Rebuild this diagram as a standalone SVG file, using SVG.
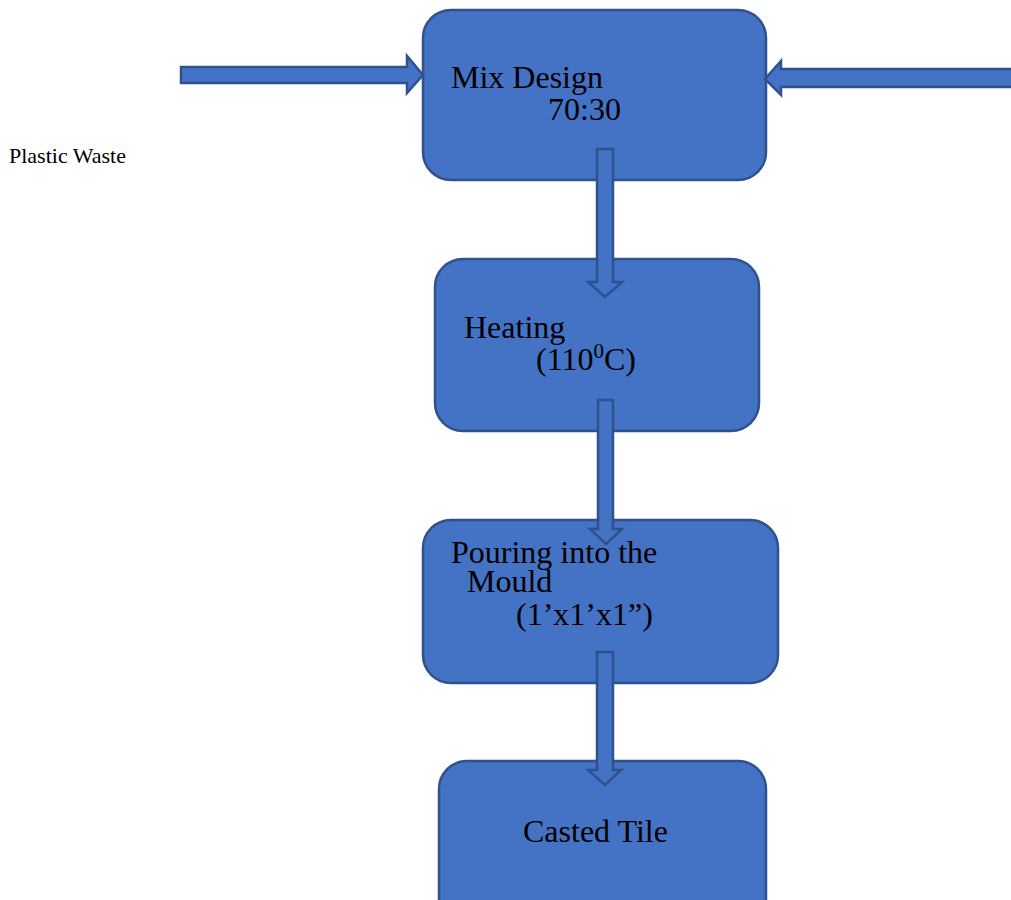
<svg xmlns="http://www.w3.org/2000/svg" width="1011" height="900" viewBox="0 0 1011 900">
<style>
.box{fill:#4472C4;stroke:#2F528F;stroke-width:2.5}
.arr{fill:#4472C4;stroke:#2F528F;stroke-width:2.5;stroke-linejoin:miter}
.t{font-family:"Liberation Serif","Times New Roman",serif;font-size:32px;fill:#000}
.s{font-family:"Liberation Serif","Times New Roman",serif;font-size:22px;fill:#000}
</style>
<rect width="1011" height="900" fill="#fff"/>
<g id="node-mix">
<rect class="box" x="423" y="10" width="343" height="170" rx="28"/>
<text class="t" x="451" y="88">Mix Design</text>
<text class="t" x="548" y="120">70:30</text>
</g>
<g id="node-heating">
<rect class="box" x="435" y="259" width="324" height="172" rx="28"/>
<text class="t" x="464" y="338">Heating</text>
<text class="t" x="536" y="370">(110<tspan font-size="21" dy="-12">0</tspan><tspan dy="12">C)</tspan></text>
</g>
<g id="node-pouring">
<rect class="box" x="423" y="520" width="355" height="163" rx="28"/>
<text class="t" x="451" y="563">Pouring into the</text>
<text class="t" x="467" y="592">Mould</text>
<text class="t" x="516" y="625">(1’x1’x1”)</text>
</g>
<g id="node-tile">
<rect class="box" x="439" y="761" width="327" height="170" rx="28"/>
<text class="t" x="523" y="842">Casted Tile</text>
</g>
<g id="label-plastic">
<text class="s" x="9" y="163">Plastic Waste</text>
</g>
<g id="connectors">
<polygon class="arr" points="181,67 407,67 407,56 423,75 407,93 407,83 181,83"/>
<polygon class="arr" points="1015,69 781,69 781,61 765,79 781,95 781,87 1015,87"/>
<polygon class="arr" points="597,149 613,149 613,282 622,282 605,297 588,282 597,282"/>
<polygon class="arr" points="598,400 613,400 613,529 622,529 606,544 590,529 598,529"/>
<polygon class="arr" points="597,652 613,652 613,770 621,770 605,785 588,770 597,770"/>
</g>
</svg>
